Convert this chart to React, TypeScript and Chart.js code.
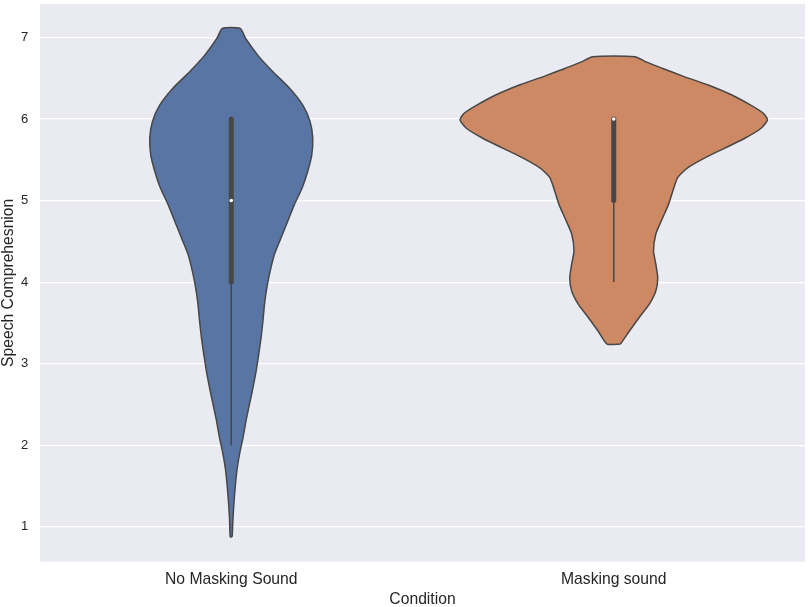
import React, { useEffect, useRef } from "react";
import { Chart, registerables } from "chart.js";

Chart.register(...registerables);

// ---- Data ----
const categories = ["No Masking Sound", "Masking sound"];
const yTicks = [1, 2, 3, 4, 5, 6, 7];

// Violin outlines: value (y) and half-width of the density (in category units)
const noMaskY = [0.877, 1.09, 1.29, 1.49, 1.7, 1.9, 2.1, 2.31, 2.51, 2.71, 2.91, 3.12, 3.32, 3.53, 3.73, 3.93, 4.14, 4.34, 4.54, 4.75, 4.95, 5.15, 5.36, 5.56, 5.77, 5.97, 6.17, 6.38, 6.58, 6.78, 6.99, 7.11];
const noMaskHalfWidth = [0.0026, 0.0044, 0.007, 0.0104, 0.015, 0.022, 0.031, 0.039, 0.048, 0.057, 0.065, 0.072, 0.078, 0.083, 0.087, 0.093, 0.102, 0.113, 0.13, 0.148, 0.165, 0.185, 0.2, 0.2105, 0.213, 0.206, 0.187, 0.152, 0.1088, 0.0697, 0.0373, 0.0235];

const maskY = [3.24, 3.4, 3.57, 3.73, 3.89, 4.05, 4.22, 4.38, 4.59, 4.79, 4.95, 5.11, 5.28, 5.4, 5.52, 5.64, 5.77, 5.89, 5.99, 6.07, 6.17, 6.3, 6.42, 6.52, 6.62, 6.7, 6.764];
const maskHalfWidth = [0.0175, 0.041, 0.067, 0.093, 0.11, 0.115, 0.11, 0.104, 0.11, 0.128, 0.143, 0.154, 0.167, 0.193, 0.237, 0.289, 0.345, 0.386, 0.402, 0.391, 0.358, 0.306, 0.245, 0.184, 0.128, 0.0843, 0.0556];

// Inner box statistics per category
const whiskerLow = [2, 4];
const q1 = [4, 5];
const medians = [5, 6];
const q3 = [6, 6];
const whiskerHigh = [6, 6];

const violinColors = ["#5875a4", "#cc8963"];
const edgeColor = "#474747";

function violinPolygon(center: number, ys: number[], ws: number[]) {
  const pts: { x: number; y: number }[] = [];
  for (let i = 0; i < ys.length; i++) pts.push({ x: center + ws[i], y: ys[i] });
  for (let i = ys.length - 1; i >= 0; i--) pts.push({ x: center - ws[i], y: ys[i] });
  pts.push({ x: center + ws[0], y: ys[0] });
  return pts;
}

const bgPlugin = {
  id: "bg",
  beforeDraw(chart: any) {
    const { ctx, chartArea } = chart;
    ctx.save();
    ctx.fillStyle = "#eaeaf2";
    ctx.fillRect(chartArea.left, chartArea.top, chartArea.right - chartArea.left, chartArea.bottom - chartArea.top);
    ctx.restore();
  },
};

export default function App() {
  const ref = useRef<HTMLCanvasElement | null>(null);

  useEffect(() => {
    if (!ref.current) return;
    const font = "'Liberation Sans', Arial, sans-serif";
    const shapes = [
      violinPolygon(0, noMaskY, noMaskHalfWidth),
      violinPolygon(1, maskY, maskHalfWidth),
    ];
    const datasets: any[] = [];
    shapes.forEach((pts, i) => {
      datasets.push({
        data: pts,
        showLine: true,
        fill: "shape",
        backgroundColor: violinColors[i],
        borderColor: edgeColor,
        borderWidth: 1.5,
        borderJoinStyle: "round",
        pointRadius: 0,
        tension: 0.2,
        order: 5,
      });
      datasets.push({
        data: [
          { x: i, y: whiskerLow[i] },
          { x: i, y: whiskerHigh[i] },
        ],
        showLine: true,
        borderColor: edgeColor,
        borderWidth: 1.5,
        pointRadius: 0,
        order: 3,
      });
      datasets.push({
        data: [
          { x: i, y: q1[i] },
          { x: i, y: q3[i] },
        ],
        showLine: true,
        borderColor: edgeColor,
        borderWidth: 5,
        borderCapStyle: "round",
        pointRadius: 0,
        order: 2,
      });
      datasets.push({
        data: [{ x: i, y: medians[i] }],
        showLine: false,
        pointRadius: 1.8,
        pointBackgroundColor: "#ffffff",
        pointBorderWidth: 0,
        order: 1,
      });
    });

    const chart = new Chart(ref.current, {
      type: "scatter",
      data: { datasets },
      plugins: [bgPlugin],
      options: {
        animation: false,
        responsive: false,
        maintainAspectRatio: false,
        layout: { padding: { top: 2, right: 2.3, left: 0, bottom: 0 } },
        plugins: { legend: { display: false }, tooltip: { enabled: false } },
        scales: {
          x: {
            type: "linear",
            min: -0.5,
            max: 1.5,
            afterBuildTicks: (s: any) => {
              s.ticks = categories.map((_, i) => ({ value: i }));
            },
            afterFit: (s: any) => {
              s.height = 45.3;
              s.paddingLeft = 0;
              s.paddingRight = 0;
            },
            grid: { display: false, drawTicks: false },
            border: { display: false },
            ticks: {
              padding: 8.1,
              color: "#262626",
              font: { family: font, size: 15.7 },
              autoSkip: false,
              maxRotation: 0,
              callback: (v: any) => categories[Math.round(Number(v))] ?? "",
            },
            title: {
              display: true,
              text: "Condition",
              color: "#262626",
              font: { family: font, size: 15.7, lineHeight: 1 },
              padding: { top: 0, bottom: -1 },
            },
          },
          y: {
            type: "linear",
            min: 0.572,
            max: 7.41,
            afterBuildTicks: (s: any) => {
              s.ticks = yTicks.map((v) => ({ value: v }));
            },
            afterFit: (s: any) => {
              s.width = 40;
              s.paddingTop = 0;
              s.paddingBottom = 0;
            },
            grid: { color: "#ffffff", lineWidth: 1.2, drawTicks: false },
            border: { display: false },
            ticks: {
              padding: 11.7,
              color: "#262626",
              font: { family: font, size: 13 },
              callback: (v: any) => String(v),
            },
            title: {
              display: true,
              text: "Speech Comprehesnion",
              color: "#262626",
              font: { family: font, size: 15.7, lineHeight: 1 },
              padding: { top: 1, bottom: 0 },
            },
          },
        },
      },
    });
    return () => chart.destroy();
  }, []);

  return (
    <div style={{ position: "absolute", left: 0, top: 0, width: 809, height: 607, background: "#ffffff" }}>
      <canvas ref={ref} width={809} height={607} style={{ width: 809, height: 607, display: "block" }} />
    </div>
  );
}
